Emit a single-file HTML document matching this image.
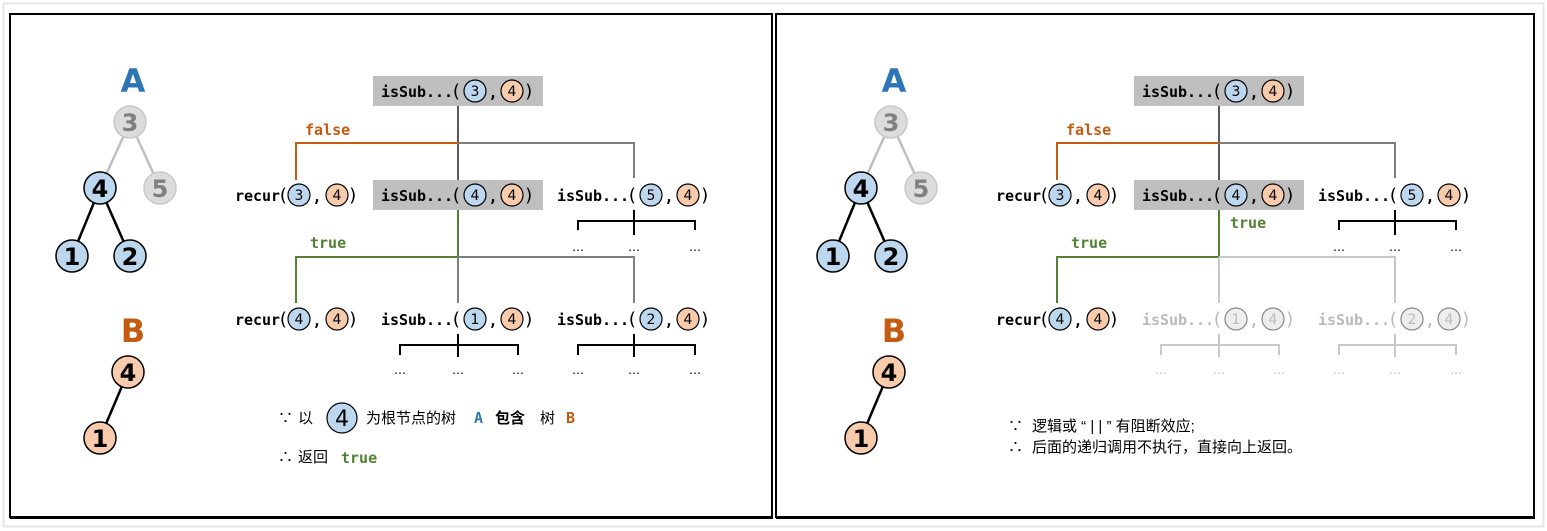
<!DOCTYPE html>
<html><head><meta charset="utf-8"><style>
html,body{margin:0;padding:0;background:#fff;}
svg{display:block;}
.m{font-family:"DejaVu Sans Mono","Liberation Mono",monospace;font-weight:bold;font-size:15px;}
.p{font-family:"DejaVu Sans Mono",monospace;font-size:18px;}
.c{font-family:"DejaVu Sans",sans-serif;font-size:14px;text-anchor:middle;}
.d{font-family:"DejaVu Sans",sans-serif;font-size:12px;text-anchor:middle;}
.n{font-family:"DejaVu Sans","Liberation Sans",sans-serif;font-weight:bold;text-anchor:middle;}
.cj{font-family:"Liberation Sans","Noto Sans CJK SC",sans-serif;font-size:15px;}
</style></head><body>
<svg width="1547" height="531" viewBox="0 0 1547 531" xmlns="http://www.w3.org/2000/svg">
<rect x="3.5" y="3.5" width="1540" height="523" fill="#fff" stroke="#e6e6e6" stroke-width="2"/>
<rect x="10" y="14" width="762" height="503" fill="#fff" stroke="#000" stroke-width="2"/>
<line x1="10" y1="518" x2="773" y2="518" stroke="#000" stroke-width="2"/>
<rect x="776" y="14" width="758" height="503" fill="#fff" stroke="#000" stroke-width="2"/>
<line x1="776" y1="518" x2="1535" y2="518" stroke="#000" stroke-width="2"/>

<g id="L">
<text x="133" y="92" class="n" font-size="32" fill="#2e75b6">A</text>
<line x1="130" y1="122" x2="100" y2="188" stroke="#bfbfbf" stroke-width="2.5"/>
<line x1="130" y1="122" x2="160" y2="188" stroke="#bfbfbf" stroke-width="2.5"/>
<line x1="100" y1="188" x2="72" y2="256" stroke="#000" stroke-width="2.5"/>
<line x1="100" y1="188" x2="130" y2="256" stroke="#000" stroke-width="2.5"/>
<circle cx="130" cy="122" r="16" fill="#dcdcdc" stroke="#c8c8c8" stroke-width="1.5"/><text x="130" y="131" class="n" font-size="24" fill="#808080">3</text>
<circle cx="100" cy="188" r="16" fill="#bdd7ee" stroke="#000" stroke-width="1.5"/><text x="100" y="197" class="n" font-size="24">4</text>
<circle cx="160" cy="188" r="16" fill="#dcdcdc" stroke="#c8c8c8" stroke-width="1.5"/><text x="160" y="197" class="n" font-size="24" fill="#808080">5</text>
<circle cx="72" cy="256" r="16" fill="#bdd7ee" stroke="#000" stroke-width="1.5"/><text x="72" y="265" class="n" font-size="24">1</text>
<circle cx="130" cy="256" r="16" fill="#bdd7ee" stroke="#000" stroke-width="1.5"/><text x="130" y="265" class="n" font-size="24">2</text>
<text x="133" y="342" class="n" font-size="32" fill="#c55a11">B</text>
<line x1="128" y1="372" x2="100" y2="438" stroke="#000" stroke-width="2.5"/>
<circle cx="128" cy="372" r="16" fill="#f8cbad" stroke="#000" stroke-width="1.5"/><text x="128" y="381" class="n" font-size="24">4</text>
<circle cx="100" cy="438" r="16" fill="#f8cbad" stroke="#000" stroke-width="1.5"/><text x="100" y="447" class="n" font-size="24">1</text>
</g>

<rect x="373" y="76" width="170" height="30" fill="#bfbfbf"/>
<rect x="373" y="180" width="170" height="30" fill="#bfbfbf"/>
<g fill="none" stroke-width="2">
<path d="M458 106V180" stroke="#595959"/>
<path d="M458 143H296V180" stroke="#c55a11"/>
<path d="M458 143H634V178" stroke="#7f7f7f"/>
<path d="M458 210V257H296V303" stroke="#548235"/>
<path d="M458 257V303M458 257H634V303" stroke="#7f7f7f"/>
<path d="M634 210V235M578 230V221H695V230" stroke="#000"/>
<path d="M458 334V357M400 355V345H518V355" stroke="#000"/>
<path d="M634 334V357M578 355V345H695V355" stroke="#000"/>
</g>
<text x="305" y="135" class="m" fill="#c55a11">false</text>
<text x="310" y="248" class="m" fill="#548235">true</text>
<g class="d">
<text x="578" y="251">…</text><text x="634" y="251">…</text><text x="695" y="251">…</text>
<text x="400" y="374">…</text><text x="458" y="374">…</text><text x="518" y="374">…</text>
<text x="578" y="374">…</text><text x="634" y="374">…</text><text x="695" y="374">…</text>
</g>

<g>
<text x="381" y="97" class="m" textLength="72">isSub...</text><text x="456" y="97" class="p" text-anchor="middle">(</text>
<circle cx="475" cy="91" r="11" fill="#bdd7ee" stroke="#000" stroke-width="1.2"/><text x="475" y="96" class="c">3</text>
<text x="493" y="98" class="m" text-anchor="middle">,</text>
<circle cx="512" cy="91" r="11" fill="#f8cbad" stroke="#000" stroke-width="1.2"/><text x="512" y="96" class="c">4</text>
<text x="529" y="97" class="p" text-anchor="middle">)</text>

<text x="235" y="201" class="m" textLength="45">recur</text><text x="283" y="201" class="p" text-anchor="middle">(</text>
<circle cx="299" cy="195" r="11" fill="#bdd7ee" stroke="#000" stroke-width="1.2"/><text x="299" y="200" class="c">3</text>
<text x="317" y="202" class="m" text-anchor="middle">,</text>
<circle cx="337" cy="195" r="11" fill="#f8cbad" stroke="#000" stroke-width="1.2"/><text x="337" y="200" class="c">4</text>
<text x="353" y="201" class="p" text-anchor="middle">)</text>

<text x="381" y="201" class="m" textLength="72">isSub...</text><text x="456" y="201" class="p" text-anchor="middle">(</text>
<circle cx="475" cy="195" r="11" fill="#bdd7ee" stroke="#000" stroke-width="1.2"/><text x="475" y="200" class="c">4</text>
<text x="493" y="202" class="m" text-anchor="middle">,</text>
<circle cx="512" cy="195" r="11" fill="#f8cbad" stroke="#000" stroke-width="1.2"/><text x="512" y="200" class="c">4</text>
<text x="529" y="201" class="p" text-anchor="middle">)</text>

<text x="557" y="201" class="m" textLength="72">isSub...</text><text x="632" y="201" class="p" text-anchor="middle">(</text>
<circle cx="651" cy="195" r="11" fill="#bdd7ee" stroke="#000" stroke-width="1.2"/><text x="651" y="200" class="c">5</text>
<text x="669" y="202" class="m" text-anchor="middle">,</text>
<circle cx="688" cy="195" r="11" fill="#f8cbad" stroke="#000" stroke-width="1.2"/><text x="688" y="200" class="c">4</text>
<text x="705" y="201" class="p" text-anchor="middle">)</text>

<text x="235" y="325" class="m" textLength="45">recur</text><text x="283" y="325" class="p" text-anchor="middle">(</text>
<circle cx="299" cy="319" r="11" fill="#bdd7ee" stroke="#000" stroke-width="1.2"/><text x="299" y="324" class="c">4</text>
<text x="317" y="326" class="m" text-anchor="middle">,</text>
<circle cx="337" cy="319" r="11" fill="#f8cbad" stroke="#000" stroke-width="1.2"/><text x="337" y="324" class="c">4</text>
<text x="353" y="325" class="p" text-anchor="middle">)</text>

<text x="381" y="325" class="m" textLength="72">isSub...</text><text x="456" y="325" class="p" text-anchor="middle">(</text>
<circle cx="475" cy="319" r="11" fill="#bdd7ee" stroke="#000" stroke-width="1.2"/><text x="475" y="324" class="c">1</text>
<text x="493" y="326" class="m" text-anchor="middle">,</text>
<circle cx="512" cy="319" r="11" fill="#f8cbad" stroke="#000" stroke-width="1.2"/><text x="512" y="324" class="c">4</text>
<text x="529" y="325" class="p" text-anchor="middle">)</text>

<text x="557" y="325" class="m" textLength="72">isSub...</text><text x="632" y="325" class="p" text-anchor="middle">(</text>
<circle cx="651" cy="319" r="11" fill="#bdd7ee" stroke="#000" stroke-width="1.2"/><text x="651" y="324" class="c">2</text>
<text x="669" y="326" class="m" text-anchor="middle">,</text>
<circle cx="688" cy="319" r="11" fill="#f8cbad" stroke="#000" stroke-width="1.2"/><text x="688" y="324" class="c">4</text>
<text x="705" y="325" class="p" text-anchor="middle">)</text>
</g>

<text x="278" y="423" class="cj">∵</text>
<text x="298" y="423" class="cj">以</text>
<circle cx="342" cy="418" r="15" fill="#bdd7ee" stroke="#000" stroke-width="1.2"/>
<text x="342" y="426" font-family="DejaVu Sans,sans-serif" font-size="22" text-anchor="middle">4</text>
<text x="366" y="423" class="cj">为根节点的树</text>
<text x="474" y="423" class="m" font-size="16" fill="#2e75b6">A</text>
<text x="495" y="423" class="cj" font-weight="bold">包含</text>
<text x="540" y="423" class="cj">树</text>
<text x="566" y="423" class="m" font-size="16" fill="#c55a11">B</text>
<text x="278" y="462" class="cj">∴</text>
<text x="298" y="462" class="cj">返回</text>
<text x="341" y="463" class="m" font-size="17" fill="#548235">true</text>

<g transform="translate(761,0)">
<text x="133" y="92" class="n" font-size="32" fill="#2e75b6">A</text>
<line x1="130" y1="122" x2="100" y2="188" stroke="#bfbfbf" stroke-width="2.5"/>
<line x1="130" y1="122" x2="160" y2="188" stroke="#bfbfbf" stroke-width="2.5"/>
<line x1="100" y1="188" x2="72" y2="256" stroke="#000" stroke-width="2.5"/>
<line x1="100" y1="188" x2="130" y2="256" stroke="#000" stroke-width="2.5"/>
<circle cx="130" cy="122" r="16" fill="#dcdcdc" stroke="#c8c8c8" stroke-width="1.5"/><text x="130" y="131" class="n" font-size="24" fill="#808080">3</text>
<circle cx="100" cy="188" r="16" fill="#bdd7ee" stroke="#000" stroke-width="1.5"/><text x="100" y="197" class="n" font-size="24">4</text>
<circle cx="160" cy="188" r="16" fill="#dcdcdc" stroke="#c8c8c8" stroke-width="1.5"/><text x="160" y="197" class="n" font-size="24" fill="#808080">5</text>
<circle cx="72" cy="256" r="16" fill="#bdd7ee" stroke="#000" stroke-width="1.5"/><text x="72" y="265" class="n" font-size="24">1</text>
<circle cx="130" cy="256" r="16" fill="#bdd7ee" stroke="#000" stroke-width="1.5"/><text x="130" y="265" class="n" font-size="24">2</text>
<text x="133" y="342" class="n" font-size="32" fill="#c55a11">B</text>
<line x1="128" y1="372" x2="100" y2="438" stroke="#000" stroke-width="2.5"/>
<circle cx="128" cy="372" r="16" fill="#f8cbad" stroke="#000" stroke-width="1.5"/><text x="128" y="381" class="n" font-size="24">4</text>
<circle cx="100" cy="438" r="16" fill="#f8cbad" stroke="#000" stroke-width="1.5"/><text x="100" y="447" class="n" font-size="24">1</text>

<rect x="373" y="76" width="170" height="30" fill="#bfbfbf"/>
<rect x="373" y="180" width="170" height="30" fill="#bfbfbf"/>
<g fill="none" stroke-width="2">
<path d="M458 106V180" stroke="#595959"/>
<path d="M458 143H296V180" stroke="#c55a11"/>
<path d="M458 143H634V178" stroke="#7f7f7f"/>
<path d="M458 210V257H296V303" stroke="#548235"/>
<path d="M458 257V303M458 257H634V303" stroke="#c8c8c8"/>
<path d="M634 210V235M578 230V221H695V230" stroke="#000"/>
<path d="M458 334V357M400 355V345H518V355" stroke="#c8c8c8"/>
<path d="M634 334V357M578 355V345H695V355" stroke="#c8c8c8"/>
</g>
<text x="305" y="135" class="m" fill="#c55a11">false</text>
<text x="310" y="248" class="m" fill="#548235">true</text>
<text x="469" y="228" class="m" fill="#548235">true</text>
<g class="d">
<text x="578" y="251">…</text><text x="634" y="251">…</text><text x="695" y="251">…</text>
</g>
<g class="d" fill="#bbb">
<text x="400" y="374">…</text><text x="458" y="374">…</text><text x="518" y="374">…</text>
<text x="578" y="374">…</text><text x="634" y="374">…</text><text x="695" y="374">…</text>
</g>

<text x="381" y="97" class="m" textLength="72">isSub...</text><text x="456" y="97" class="p" text-anchor="middle">(</text>
<circle cx="475" cy="91" r="11" fill="#bdd7ee" stroke="#000" stroke-width="1.2"/><text x="475" y="96" class="c">3</text>
<text x="493" y="98" class="m" text-anchor="middle">,</text>
<circle cx="512" cy="91" r="11" fill="#f8cbad" stroke="#000" stroke-width="1.2"/><text x="512" y="96" class="c">4</text>
<text x="529" y="97" class="p" text-anchor="middle">)</text>

<text x="235" y="201" class="m" textLength="45">recur</text><text x="283" y="201" class="p" text-anchor="middle">(</text>
<circle cx="299" cy="195" r="11" fill="#bdd7ee" stroke="#000" stroke-width="1.2"/><text x="299" y="200" class="c">3</text>
<text x="317" y="202" class="m" text-anchor="middle">,</text>
<circle cx="337" cy="195" r="11" fill="#f8cbad" stroke="#000" stroke-width="1.2"/><text x="337" y="200" class="c">4</text>
<text x="353" y="201" class="p" text-anchor="middle">)</text>

<text x="381" y="201" class="m" textLength="72">isSub...</text><text x="456" y="201" class="p" text-anchor="middle">(</text>
<circle cx="475" cy="195" r="11" fill="#bdd7ee" stroke="#000" stroke-width="1.2"/><text x="475" y="200" class="c">4</text>
<text x="493" y="202" class="m" text-anchor="middle">,</text>
<circle cx="512" cy="195" r="11" fill="#f8cbad" stroke="#000" stroke-width="1.2"/><text x="512" y="200" class="c">4</text>
<text x="529" y="201" class="p" text-anchor="middle">)</text>

<text x="557" y="201" class="m" textLength="72">isSub...</text><text x="632" y="201" class="p" text-anchor="middle">(</text>
<circle cx="651" cy="195" r="11" fill="#bdd7ee" stroke="#000" stroke-width="1.2"/><text x="651" y="200" class="c">5</text>
<text x="669" y="202" class="m" text-anchor="middle">,</text>
<circle cx="688" cy="195" r="11" fill="#f8cbad" stroke="#000" stroke-width="1.2"/><text x="688" y="200" class="c">4</text>
<text x="705" y="201" class="p" text-anchor="middle">)</text>

<text x="235" y="325" class="m" textLength="45">recur</text><text x="283" y="325" class="p" text-anchor="middle">(</text>
<circle cx="299" cy="319" r="11" fill="#bdd7ee" stroke="#000" stroke-width="1.2"/><text x="299" y="324" class="c">4</text>
<text x="317" y="326" class="m" text-anchor="middle">,</text>
<circle cx="337" cy="319" r="11" fill="#f8cbad" stroke="#000" stroke-width="1.2"/><text x="337" y="324" class="c">4</text>
<text x="353" y="325" class="p" text-anchor="middle">)</text>

<g fill="#bbb">
<text x="381" y="325" class="m" textLength="72">isSub...</text><text x="456" y="325" class="p" text-anchor="middle">(</text>
<circle cx="475" cy="319" r="11" fill="#eee" stroke="#888" stroke-width="1.2"/><text x="475" y="324" class="c">1</text>
<text x="493" y="326" class="m" text-anchor="middle">,</text>
<circle cx="512" cy="319" r="11" fill="#eee" stroke="#888" stroke-width="1.2"/><text x="512" y="324" class="c">4</text>
<text x="529" y="325" class="p" text-anchor="middle">)</text>

<text x="557" y="325" class="m" textLength="72">isSub...</text><text x="632" y="325" class="p" text-anchor="middle">(</text>
<circle cx="651" cy="319" r="11" fill="#eee" stroke="#888" stroke-width="1.2"/><text x="651" y="324" class="c">2</text>
<text x="669" y="326" class="m" text-anchor="middle">,</text>
<circle cx="688" cy="319" r="11" fill="#eee" stroke="#888" stroke-width="1.2"/><text x="688" y="324" class="c">4</text>
<text x="705" y="325" class="p" text-anchor="middle">)</text>
</g>
</g>

<text x="1008" y="431" class="cj">∵</text>
<text x="1032" y="431" class="cj">逻辑或 “ | | ” 有阻断效应;</text>
<text x="1008" y="452" class="cj">∴</text>
<text x="1032" y="452" class="cj">后面的递归调用不执行，直接向上返回。</text>
</svg>
</body></html>
